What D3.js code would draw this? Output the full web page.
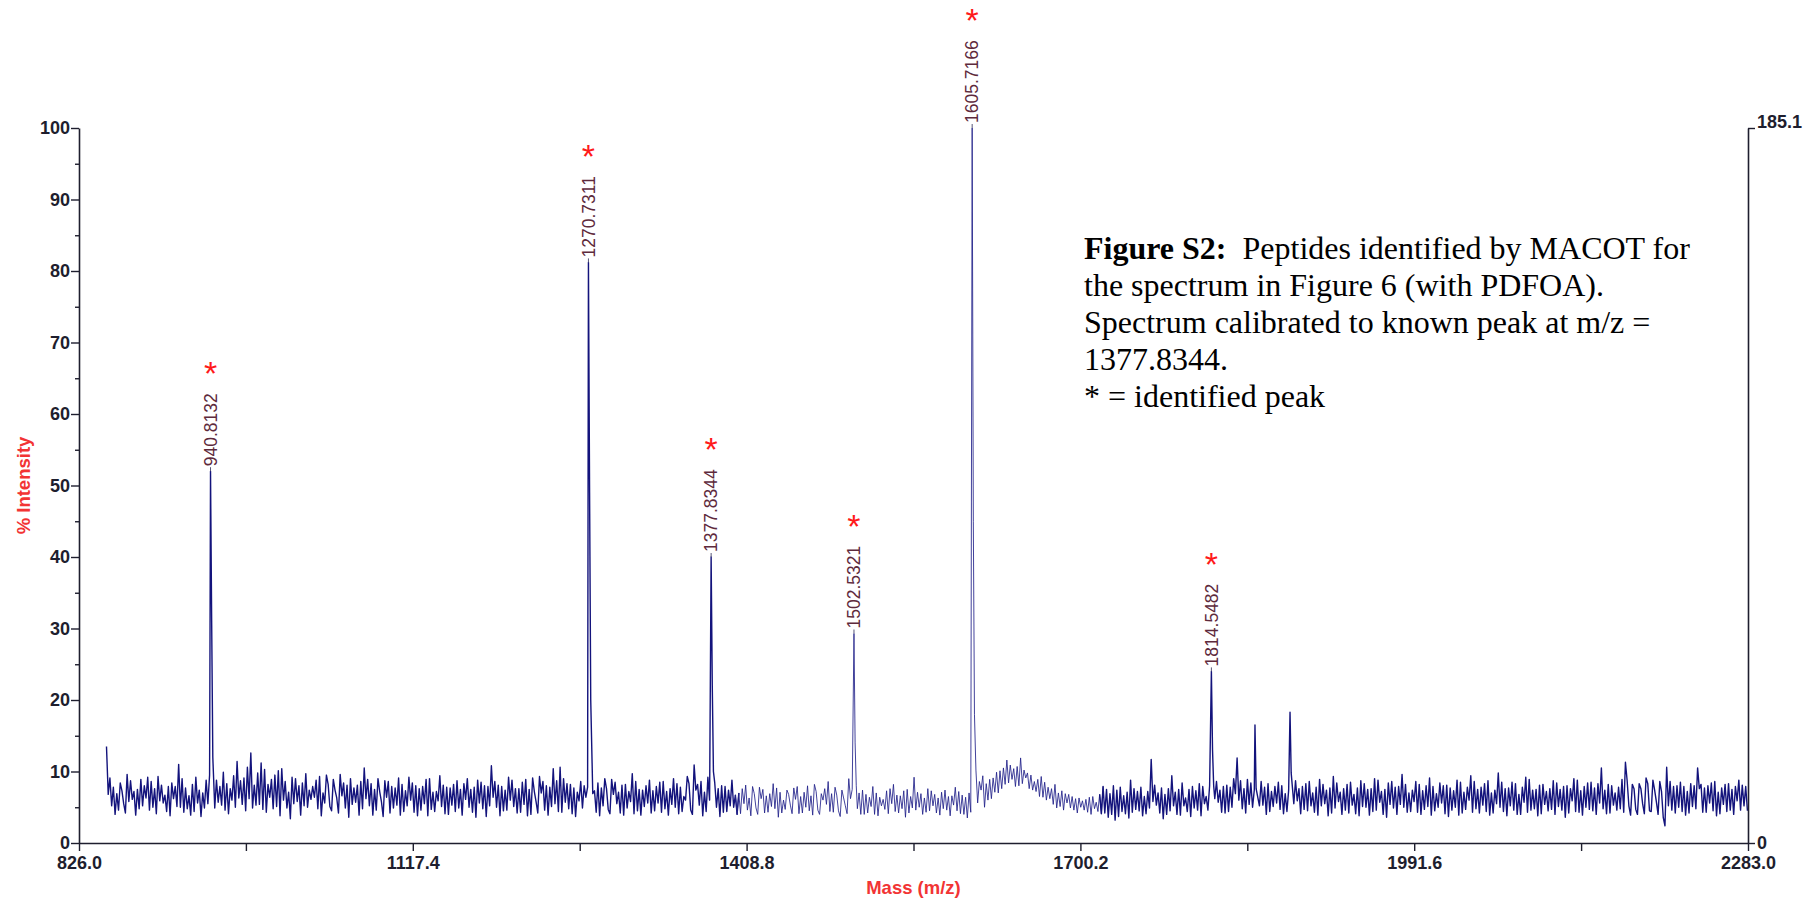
<!DOCTYPE html>
<html><head><meta charset="utf-8">
<script src="https://cdn.jsdelivr.net/npm/d3@7"></script>
<style>html,body{margin:0;padding:0;background:#fff;} svg{display:block;}</style>
</head><body>
<svg id="chart" width="1805" height="900"></svg>
<script>
// ---------------- data ----------------
const mzDomain = [826.0, 2283.0];
const intensityDomain = [0, 100];
const rightDomain = [0, 185.1];
const xTickLabels = [826.0, 1117.4, 1408.8, 1700.2, 1991.6, 2283.0];
const xMinorTicks = [971.7, 1263.1, 1554.5, 1845.9, 2137.3];
const yTickLabels = [0, 10, 20, 30, 40, 50, 60, 70, 80, 90, 100];
const yMinorTicks = [5, 15, 25, 35, 45, 55, 65, 75, 85, 95];
const rightTickLabels = [0, 185.1];

// identified peaks (m/z, % intensity of monoisotopic and following isotopes)
const peakMz        = [940.8132, 1270.7311, 1377.8344, 1502.5321, 1605.7166, 1814.5482];
const peakIntensity = [52.0, 81.2, 40.0, 29.3, 100.0, 24.0];
const peakIsotope1  = [31.0, 49.0, 22.0, 14.0, 45.0, 13.0];
const peakIsotope2  = [12.0, 20.0, 10.0, 8.0, 18.0, 8.0];

// unlabelled peaks
const minorPeakMz        = [1852.6, 1883.2];
const minorPeakIntensity = [16.5, 18.3];
const minorPeakIsotope1  = [7.6, 9.8];

// baseline noise: two readings per 3 Da bin starting at 850 Da
const noiseStartMz = 850, noiseStepMz = 3;
const noiseIntensityA = [
  13.5, 5.2, 7.8, 4.6, 8.4, 5.5, 9.6, 6.1, 7.2, 4.8, 8.9, 6.3, 9.2, 5.0, 7.6, 5.9, 8.1, 4.4, 7.9, 6.2,
  5.1, 11.0, 4.3, 7.7, 3.9, 8.2, 5.6, 7.4, 4.9, 8.8, 9.5, 8.9, 5.7, 7.9, 4.6, 8.3, 6.0, 9.4, 11.4, 5.4,
  9.1, 6.2, 12.6, 5.3, 9.8, 4.7, 10.3, 6.4, 8.9, 5.1, 10.1, 6.0, 8.6, 3.4, 9.2, 5.8, 8.0, 5.2, 9.7, 6.1,
  7.9, 4.8, 9.3, 5.6, 8.2, 4.5, 7.4, 6.3, 9.6, 4.9, 8.1, 5.4, 7.7, 3.9, 8.6, 10.5, 5.2, 8.3, 4.6, 7.2,
  5.8, 8.7, 4.2, 7.9, 5.3, 9.1, 4.4, 7.3, 6.0, 8.4, 3.8, 7.6, 5.5, 8.9, 4.7, 7.1, 5.9, 9.4, 4.1, 7.8,
  5.3, 8.2, 4.9, 7.5, 6.1, 9.0, 4.3, 7.8, 5.6, 8.5, 3.7, 7.9, 10.8, 5.0, 8.1, 4.5, 7.4, 6.0, 8.8, 4.2,
  7.6, 5.4, 8.9, 4.0, 7.2, 5.8, 9.3, 4.6, 8.0, 5.1, 10.4, 4.4, 10.6, 5.7, 8.3, 4.1, 7.7, 5.9, 8.6, 6.4,
  7.8, 6.9, 4.3, 8.4, 5.2, 7.6, 4.7, 8.9, 5.5, 7.1, 3.9, 8.2, 5.8, 9.7, 4.5, 7.5, 5.1, 8.0, 4.2, 7.3,
  5.6, 8.5, 4.8, 7.2, 5.4, 9.0, 4.1, 7.8, 6.0, 8.3, 4.6, 10.9, 5.3, 8.6, 4.4, 9.2, 8.0, 5.0, 7.6, 4.3,
  7.9, 5.2, 8.8, 4.0, 7.0, 5.5, 8.1, 3.8, 6.9, 4.9, 7.8, 4.2, 6.6, 5.1, 8.3, 3.6, 7.1, 4.7, 6.8, 5.3,
  7.7, 4.1, 6.5, 5.0, 8.0, 3.9, 7.2, 4.6, 6.9, 5.4, 8.6, 4.3, 6.7, 3.7, 7.4, 5.2, 9.0, 7.5, 4.8, 7.0,
  4.0, 6.8, 5.1, 7.9, 3.8, 6.4, 4.7, 7.3, 5.5, 8.2, 4.2, 6.6, 3.6, 7.5, 4.9, 9.2, 5.0, 6.9, 4.3, 7.6,
  5.2, 6.8, 3.9, 7.1, 4.6, 6.5, 5.3, 7.8, 4.1, 6.7, 3.5, 7.0, 4.8, 10.2, 7.4, 5.0, 8.3, 6.2, 9.1, 7.0,
  10.1, 8.2, 11.6, 8.9, 10.4, 8.0, 11.9, 9.1, 9.8, 7.4, 8.6, 6.5, 9.3, 6.0, 7.8, 5.4, 8.2, 5.1, 7.3, 5.6,
  6.8, 4.6, 6.2, 5.0, 5.9, 4.3, 6.4, 4.8, 5.7, 4.1, 7.9, 3.6, 6.9, 3.2, 7.4, 4.4, 6.6, 3.5, 8.8, 4.7,
  7.2, 3.8, 6.5, 4.9, 11.7, 5.3, 7.0, 3.4, 6.8, 4.5, 9.4, 4.0, 7.5, 5.2, 6.3, 3.7, 7.9, 4.6, 8.3, 5.5,
  6.5, 8.0, 9.5, 5.7, 7.4, 4.2, 8.1, 5.0, 6.9, 11.9, 4.8, 7.6, 5.4, 8.4, 6.9, 8.1, 5.3, 7.8, 4.4, 7.2,
  5.6, 8.5, 4.1, 6.9, 7.4, 8.8, 5.9, 7.6, 4.7, 8.3, 5.2, 7.0, 3.9, 8.9, 5.5, 7.4, 4.2, 9.3, 5.8, 7.1,
  4.6, 8.2, 5.3, 6.8, 3.8, 8.7, 5.0, 7.5, 4.4, 9.0, 5.7, 7.2, 3.6, 8.4, 4.9, 7.8, 5.4, 9.6, 4.3, 7.0,
  5.8, 8.6, 4.0, 7.3, 5.1, 9.1, 4.5, 6.9, 5.6, 8.0, 3.7, 7.7, 5.0, 8.8, 4.2, 7.1, 6.0, 9.4, 4.8, 7.5,
  5.3, 8.3, 3.9, 7.0, 5.5, 9.8, 4.4, 7.6, 5.2, 8.5, 4.0, 6.8, 5.7, 9.2, 4.6, 7.4, 3.8, 8.1, 5.4, 7.2,
  4.7, 8.7, 5.1, 7.5, 3.6, 8.0, 5.9, 9.0, 4.3, 7.3, 5.0, 8.4, 4.5, 7.7, 5.6, 10.5, 4.1, 8.2, 5.3, 7.0,
  4.8, 8.9, 11.3, 5.2, 7.6, 4.0, 8.3, 5.5, 9.1, 4.4, 7.4, 5.8, 8.6, 2.4, 10.6, 4.6, 7.9, 5.0, 8.5, 3.9,
  7.2, 5.1, 8.0, 10.5, 4.3, 7.7, 5.6, 8.4, 3.8, 7.1, 5.4, 8.2, 4.6, 7.5, 5.9, 8.8, 5.2, 7.9
];
const noiseIntensityB = [
  6.8, 9.1, 4.0, 6.9, 7.3, 4.2, 5.8, 8.7, 3.9, 7.5, 5.2, 8.0, 4.6, 8.6, 4.1, 9.3, 5.6, 6.7, 3.8, 8.4,
  7.9, 5.0, 9.0, 4.8, 6.6, 4.4, 9.2, 3.7, 7.0, 5.5, 7.2, 4.9, 8.8, 5.3, 9.9, 4.1, 7.6, 5.0, 6.3, 8.7,
  4.5, 10.6, 4.9, 8.1, 5.4, 11.2, 4.3, 8.2, 4.8, 9.5, 3.8, 10.4, 4.9, 7.1, 5.5, 9.0, 3.9, 8.4, 5.0, 7.4,
  6.4, 8.8, 3.8, 7.0, 9.5, 5.1, 8.9, 4.2, 6.6, 8.4, 3.6, 9.0, 5.7, 8.1, 4.8, 6.2, 8.9, 3.9, 7.5, 9.0,
  3.7, 6.4, 8.6, 4.9, 7.7, 3.9, 8.2, 5.2, 9.2, 4.3, 8.0, 4.6, 7.9, 3.8, 9.0, 4.4, 7.2, 5.1, 8.1, 4.0,
  7.7, 4.4, 8.7, 3.9, 8.3, 5.0, 7.5, 3.6, 8.8, 4.8, 8.0, 5.2, 6.4, 8.6, 3.8, 7.9, 4.6, 9.2, 5.1, 7.6,
  4.3, 8.5, 3.8, 7.5, 9.1, 4.2, 7.0, 8.6, 3.9, 7.8, 5.5, 8.7, 4.3, 9.0, 4.8, 8.2, 3.7, 7.1, 4.9, 8.0,
  5.2, 8.6, 7.3, 3.8, 7.7, 9.0, 4.1, 6.8, 8.5, 4.2, 8.1, 4.9, 7.2, 4.1, 8.6, 3.9, 7.4, 5.6, 8.8, 4.5,
  7.9, 4.3, 8.6, 3.9, 7.6, 5.0, 8.3, 4.4, 6.5, 9.3, 4.0, 7.4, 8.2, 3.8, 7.1, 6.0, 5.1, 8.4, 3.7, 8.0,
  4.4, 7.4, 5.0, 6.7, 4.1, 7.6, 4.6, 6.3, 7.9, 4.0, 6.2, 7.5, 4.3, 6.9, 4.8, 7.7, 4.2, 6.0, 7.4, 4.1,
  6.1, 7.9, 4.2, 7.1, 4.5, 6.6, 8.2, 4.0, 6.0, 7.6, 4.4, 6.9, 7.8, 4.5, 6.3, 4.1, 6.2, 5.4, 7.2, 4.0,
  7.4, 4.2, 6.4, 4.0, 7.0, 5.2, 6.1, 4.1, 7.6, 4.4, 6.7, 4.8, 7.3, 4.2, 6.5, 4.6, 7.1, 4.0, 6.3, 4.5,
  7.3, 4.2, 6.3, 4.8, 7.4, 3.8, 6.6, 4.5, 7.2, 4.0, 6.4, 4.3, 6.9, 5.6, 8.6, 9.4, 6.0, 8.9, 7.1, 9.9,
  7.6, 10.5, 8.4, 10.9, 7.9, 10.7, 8.3, 10.2, 7.6, 9.5, 7.2, 8.9, 6.4, 8.5, 6.2, 7.6, 4.9, 7.0, 4.6, 6.9,
  4.9, 6.5, 4.2, 6.3, 4.6, 6.1, 4.0, 6.5, 4.4, 6.8, 4.2, 7.5, 4.0, 8.0, 3.7, 7.8, 4.1, 7.1, 4.3, 7.6,
  4.5, 7.8, 4.1, 7.2, 5.8, 8.1, 4.2, 7.7, 4.0, 7.6, 5.2, 7.1, 3.9, 8.4, 4.4, 7.5, 4.9, 7.3, 3.8, 7.9,
  4.6, 6.6, 6.2, 8.6, 4.3, 7.9, 4.4, 7.8, 9.0, 6.0, 8.7, 4.2, 8.9, 5.0, 7.4, 5.2, 8.6, 4.0, 8.3, 5.1,
  7.9, 4.7, 8.0, 4.4, 6.0, 5.5, 8.7, 4.1, 7.9, 4.5, 8.6, 4.3, 7.8, 5.2, 8.2, 3.8, 7.7, 4.9, 8.4, 4.0,
  7.6, 4.2, 8.5, 4.1, 7.7, 5.1, 8.3, 3.9, 7.6, 4.6, 8.8, 4.0, 7.5, 5.4, 8.6, 4.0, 7.9, 5.0, 8.2, 4.4,
  7.4, 4.3, 8.2, 4.7, 8.0, 3.9, 7.9, 5.0, 8.4, 4.1, 8.1, 4.6, 7.3, 3.9, 8.5, 4.7, 7.8, 4.3, 8.6, 4.2,
  7.8, 4.4, 8.7, 4.2, 7.4, 5.0, 8.5, 3.8, 7.7, 4.6, 8.3, 4.0, 7.8, 4.3, 8.9, 4.8, 7.5, 4.1, 8.2, 4.5,
  7.6, 4.0, 8.4, 4.6, 7.9, 4.2, 7.6, 4.4, 8.8, 3.9, 7.9, 4.7, 8.5, 4.0, 8.3, 4.8, 7.4, 4.2, 8.0, 4.6,
  7.8, 4.3, 8.7, 3.9, 8.2, 4.7, 7.6, 4.1, 8.3, 4.5, 8.8, 4.0, 7.2, 3.6, 5.2, 8.6, 4.2, 8.0, 4.4, 7.9,
  4.2, 8.3, 4.8, 7.6, 8.2, 4.3, 8.0, 4.5, 8.6, 4.1, 7.7, 4.4, 8.3, 4.0, 7.9, 4.6, 8.1, 4.5
];

const annotationLines = [
  {bold: "Figure S2:", rest: "\u00a0 Peptides identified by MACOT for"},
  {bold: "", rest: "the spectrum in Figure 6 (with PDFOA)."},
  {bold: "", rest: "Spectrum calibrated to known peak at m/z ="},
  {bold: "", rest: "1377.8344."},
  {bold: "", rest: "* = identified peak"}
];
const xTitle = "Mass (m/z)";
const yTitle = "% Intensity";

// ---------------- drawing ----------------
const svg = d3.select("#chart");
const plotLeft = 79, plotRight = 1748, plotTop = 128, plotBottom = 843;
const x = d3.scaleLinear().domain(mzDomain).range([plotLeft, plotRight]);
const y = d3.scaleLinear().domain(intensityDomain).range([plotBottom, plotTop]);
const yR = d3.scaleLinear().domain(rightDomain).range([plotBottom, plotTop]);

const axisFont = "'Liberation Sans', Arial, Helvetica, sans-serif";
const axisColor = "#1e1e2e";

// spectrum points: in each bin the trace visits the higher reading, then the lower
const allPeakMz = peakMz.concat(minorPeakMz);
const nearPeak = mz => allPeakMz.some(p => mz > p - 0.6 && mz < p + 2.6);
let pts = [];
noiseIntensityA.forEach((a, i) => {
  const b = noiseIntensityB[i];
  const m0 = noiseStartMz + i * noiseStepMz;
  pts.push({mz: m0, v: Math.max(a, b)});
  pts.push({mz: m0 + noiseStepMz / 2, v: Math.min(a, b)});
});
pts = pts.filter(d => !nearPeak(d.mz));
peakMz.forEach((mz, i) => {
  pts.push({mz: mz, v: peakIntensity[i]});
  pts.push({mz: mz + 1.0, v: peakIsotope1[i]});
  pts.push({mz: mz + 2.0, v: peakIsotope2[i]});
});
minorPeakMz.forEach((mz, i) => {
  pts.push({mz: mz, v: minorPeakIntensity[i]});
  pts.push({mz: mz + 1.0, v: minorPeakIsotope1[i]});
});
pts.sort((a, b) => a.mz - b.mz);

const line = d3.line().x(d => x(d.mz)).y(d => y(d.v));
const lightLo = 1400, lightHi = 1718;
const segA = pts.filter(d => d.mz <= lightLo + 2);
const segB = pts.filter(d => d.mz >= lightLo - 1 && d.mz <= lightHi + 2);
const segC = pts.filter(d => d.mz >= lightHi - 1);

const trace = svg.append("g");
trace.append("path").attr("d", line(segA)).attr("fill", "none")
  .attr("stroke", "#13137c").attr("stroke-width", 1.4).attr("stroke-linejoin", "round");
trace.append("path").attr("d", line(segB)).attr("fill", "none")
  .attr("stroke", "#22228a").attr("stroke-width", 0.95).attr("stroke-opacity", 0.9).attr("stroke-linejoin", "round");
trace.append("path").attr("d", line(segC)).attr("fill", "none")
  .attr("stroke", "#13137c").attr("stroke-width", 1.4).attr("stroke-linejoin", "round");

// axes
function styleAxis(g) {
  g.selectAll("path.domain").attr("stroke", axisColor).attr("stroke-width", 1.6);
  g.selectAll(".tick line").attr("stroke", axisColor).attr("stroke-width", 1.4);
  g.selectAll(".tick text").attr("fill", axisColor).attr("font-family", axisFont)
    .attr("font-size", 18).attr("font-weight", "bold");
}
const xAxis = svg.append("g").attr("transform", `translate(0,${plotBottom})`)
  .call(d3.axisBottom(x).tickValues(xTickLabels).tickFormat(d3.format(".1f"))
    .tickSize(8).tickSizeOuter(0).tickPadding(5));
styleAxis(xAxis);
const xMinor = svg.append("g").attr("transform", `translate(0,${plotBottom})`)
  .call(d3.axisBottom(x).tickValues(xMinorTicks).tickFormat("").tickSize(8).tickSizeOuter(0));
styleAxis(xMinor);
xMinor.select("path.domain").remove();

const yAxis = svg.append("g").attr("transform", `translate(${plotLeft},0)`)
  .call(d3.axisLeft(y).tickValues(yTickLabels).tickFormat(d3.format("d"))
    .tickSize(8).tickSizeOuter(0).tickPadding(1));
styleAxis(yAxis);
const yMinor = svg.append("g").attr("transform", `translate(${plotLeft},0)`)
  .call(d3.axisLeft(y).tickValues(yMinorTicks).tickFormat("").tickSize(4).tickSizeOuter(0));
styleAxis(yMinor);
yMinor.select("path.domain").remove();

const rAxis = svg.append("g").attr("transform", `translate(${plotRight},0)`)
  .call(d3.axisRight(yR).tickValues(rightTickLabels).tickFormat(d => d === 0 ? "0" : d3.format(".1f")(d))
    .tickSize(7).tickSizeOuter(0).tickPadding(2));
styleAxis(rAxis);
rAxis.selectAll(".tick text").filter(d => d !== 0).attr("dy", "-0.05em");

// axis titles
svg.append("text").attr("x", (plotLeft + plotRight) / 2).attr("y", 894).attr("text-anchor", "middle")
  .attr("font-family", axisFont).attr("font-size", 18.5).attr("font-weight", "bold")
  .attr("fill", "#f23434").text(xTitle);
svg.append("text").attr("transform", `translate(30,${(plotTop + plotBottom) / 2}) rotate(-90)`)
  .attr("text-anchor", "middle").attr("font-family", axisFont).attr("font-size", 18.5)
  .attr("font-weight", "bold").attr("fill", "#f23434").text(yTitle);

// peak labels and asterisks
const fmt4 = d3.format(".4f");
peakMz.forEach((mz, i) => {
  const px = x(mz), py = y(peakIntensity[i]);
  svg.append("line").attr("x1", px).attr("x2", px).attr("y1", py).attr("y2", py - 4)
    .attr("stroke", "#555577").attr("stroke-width", 1);
  const t = svg.append("text").attr("transform", `translate(${px},${py - 5}) rotate(-90)`)
    .attr("dy", "0.35em").attr("text-anchor", "start")
    .attr("font-family", axisFont).attr("font-size", 17.5).attr("fill", "#5e2a3c")
    .text(fmt4(mz));
  const len = t.node().getComputedTextLength();
  svg.append("text").attr("x", px).attr("y", py - 5 - len - 8).attr("text-anchor", "middle")
    .attr("font-family", axisFont).attr("font-size", 34).attr("fill", "#ff1a1a").text("*");
});

// annotation
const ann = svg.append("text").attr("font-family", "'Liberation Serif', 'Times New Roman', serif")
  .attr("font-size", 32).attr("fill", "#000");
annotationLines.forEach((l, i) => {
  const ty = 259 + i * 37;
  if (l.bold) {
    ann.append("tspan").attr("x", 1084).attr("y", ty).attr("font-weight", "bold").text(l.bold);
    ann.append("tspan").text(l.rest);
  } else {
    ann.append("tspan").attr("x", 1084).attr("y", ty).text(l.rest);
  }
});
</script>
</body></html>
